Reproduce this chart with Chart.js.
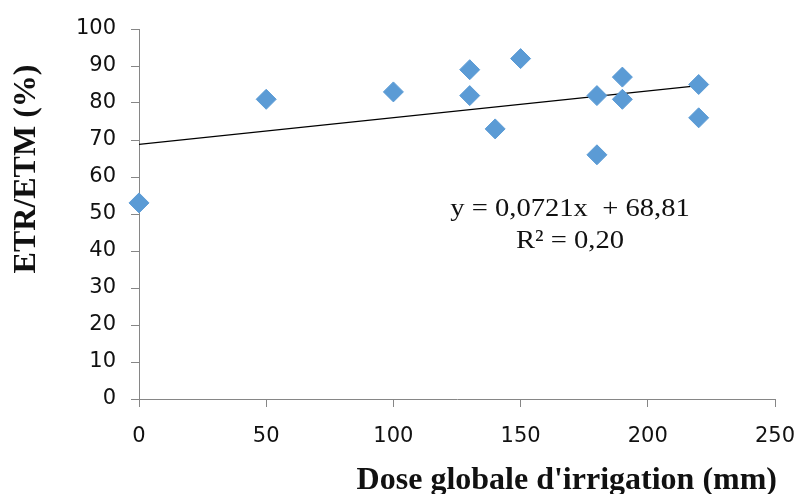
<!DOCTYPE html>
<html>
<head>
<meta charset="utf-8">
<script src="https://cdn.jsdelivr.net/npm/chart.js@4/dist/chart.umd.min.js"></script>
<style>
html,body{margin:0;padding:0;background:#fff;}
#wrap{width:797px;height:494px;}
</style>
</head>
<body>
<div id="wrap"><canvas id="c" width="797" height="494"></canvas></div>
<script>
// Data
const doses = [0, 50, 100, 130, 130, 140, 150, 180, 180, 190, 190, 220, 220];
const ratios = [53, 81, 83, 89, 82, 73, 92, 82, 66, 87, 81, 85, 76];
const xTicks = [0, 50, 100, 150, 200, 250];
const yTicks = [0, 10, 20, 30, 40, 50, 60, 70, 80, 90, 100];
const trendSlope = 0.0721;
const trendIntercept = 68.81;
const trendRange = [0, 220];
const equationText = ["y = 0,0721x  + 68,81", "R² = 0,20"];
const xTitle = "Dose globale d'irrigation (mm)";
const yTitle = "ETR/ETM (%)";

const points = doses.map((d, i) => ({x: d, y: ratios[i]}));
const trend = trendRange.map(x => ({x: x, y: trendIntercept + trendSlope * x}));

const axisColor = '#868686';

const textPlugin = {
  id: 'textPlugin',
  afterDraw(chart) {
    const ctx = chart.ctx;
    ctx.save();
    ctx.fillStyle = '#111';
    ctx.font = 'bold 32px "Liberation Serif", "Times New Roman", serif';
    ctx.textAlign = 'right';
    ctx.textBaseline = 'alphabetic';
    ctx.fillText(xTitle, 777, 489);
    ctx.save();
    ctx.translate(35, 169);
    ctx.rotate(-Math.PI / 2);
    ctx.textAlign = 'center';
    ctx.fillText(yTitle, 0, 0);
    ctx.restore();
    ctx.font = '26px "Liberation Serif", "Times New Roman", serif';
    ctx.textAlign = 'center';
    ctx.save();
    ctx.translate(570, 216);
    ctx.scale(1.1, 1);
    ctx.fillText(equationText[0], 0, 0);
    ctx.restore();
    ctx.save();
    ctx.translate(570, 248);
    ctx.scale(1.1, 1);
    ctx.fillText(equationText[1], 0, 0);
    ctx.restore();
    ctx.restore();
  }
};

new Chart(document.getElementById('c'), {
  type: 'scatter',
  data: {
    datasets: [
      {
        label: 'ETR/ETM',
        data: points,
        pointStyle: 'rectRot',
        pointRadius: 10,
        pointHoverRadius: 10,
        backgroundColor: '#5B9BD5',
        borderColor: '#5B9BD5',
        borderWidth: 1,
        clip: false,
        order: 1
      },
      {
        label: 'Tendance',
        data: trend,
        showLine: true,
        borderColor: '#000',
        borderWidth: 1.2,
        pointRadius: 0,
        fill: false,
        order: 2
      }
    ]
  },
  options: {
    responsive: false,
    animation: false,
    layout: {padding: {left: 0, right: 22, top: 29, bottom: 0}},
    plugins: {legend: {display: false}, tooltip: {enabled: false}},
    scales: {
      x: {
        type: 'linear',
        min: 0, max: 250,
        afterBuildTicks: s => { s.ticks = xTicks.map(v => ({value: v})); },
        afterFit: s => { s.height = 95; s.paddingLeft = 0; s.paddingRight = 0; },
        grid: {drawOnChartArea: false, color: axisColor, tickLength: 8, tickColor: axisColor},
        border: {color: axisColor, width: 1},
        ticks: {
          color: '#111',
          padding: 17,
          maxRotation: 0,
          font: {family: '"DejaVu Sans", sans-serif', size: 21}
        }
      },
      y: {
        type: 'linear',
        min: 0, max: 100,
        afterBuildTicks: s => { s.ticks = yTicks.map(v => ({value: v})); },
        afterFit: s => { s.width = 139; s.paddingTop = 0; s.paddingBottom = 0; },
        grid: {drawOnChartArea: false, color: axisColor, tickLength: 8, tickColor: axisColor},
        border: {color: axisColor, width: 1},
        ticks: {
          color: '#111',
          padding: 15,
          font: {family: '"DejaVu Sans", sans-serif', size: 21}
        }
      }
    }
  },
  plugins: [textPlugin]
});
</script>
</body>
</html>
